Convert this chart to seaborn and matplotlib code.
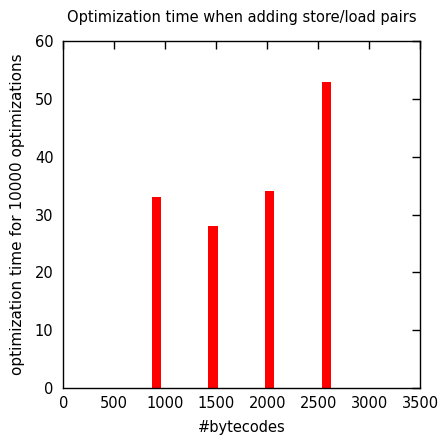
import matplotlib
matplotlib.use("Agg")
import matplotlib.pyplot as plt
import seaborn as sns
import pandas as pd

bytecodes = [911, 1469, 2025, 2582]
opt_time = [33, 28, 34, 53]
x_ticks = [0, 500, 1000, 1500, 2000, 2500, 3000, 3500]
y_ticks = [0, 10, 20, 30, 40, 50, 60]

sns.set_theme(style="white")
plt.rcParams['font.family'] = ['DejaVu Sans']
plt.rcParams['text.color'] = 'black'
plt.rcParams['axes.labelcolor'] = 'black'

df = pd.DataFrame({"bytecodes": bytecodes, "time": opt_time})

fig = plt.figure(figsize=(4.39, 4.38), dpi=100)
ax = fig.add_axes([0.144, 0.114, 0.813, 0.792])

min_gap = min(b - a for a, b in zip(bytecodes[:-1], bytecodes[1:]))
sns.barplot(data=df, x="bytecodes", y="time", native_scale=True,
            width=90 / min_gap, color="#ff0000", saturation=1,
            edgecolor="none", linewidth=0, ax=ax)
for p in ax.patches:
    p.set_zorder(2)

ax.set_xlim(0, 3500)
ax.set_ylim(0, 60)
ax.set_xticks(x_ticks)
ax.set_xticklabels([str(v) for v in x_ticks])
ax.set_yticks(y_ticks)
ax.set_yticklabels([str(v) for v in y_ticks])
ax.tick_params(direction="in", length=6, width=1, top=True, right=True,
               labelsize=10.5, colors="black", pad=6)
ax.tick_params(axis="y", pad=7)
ax.set_axisbelow(True)
for s in ax.spines.values():
    s.set_color("black")
    s.set_linewidth(1)
    s.set_visible(True)
    s.set_zorder(3)

ax.set_xlabel("#bytecodes", fontsize=10.5, labelpad=6, color="black")
ax.set_ylabel("optimization time for 10000 optimizations", fontsize=11, labelpad=7, color="black")
ax.set_title("Optimization time when adding store/load pairs", fontsize=10.5, pad=14, color="black")

fig.savefig("out.png", dpi=100)
